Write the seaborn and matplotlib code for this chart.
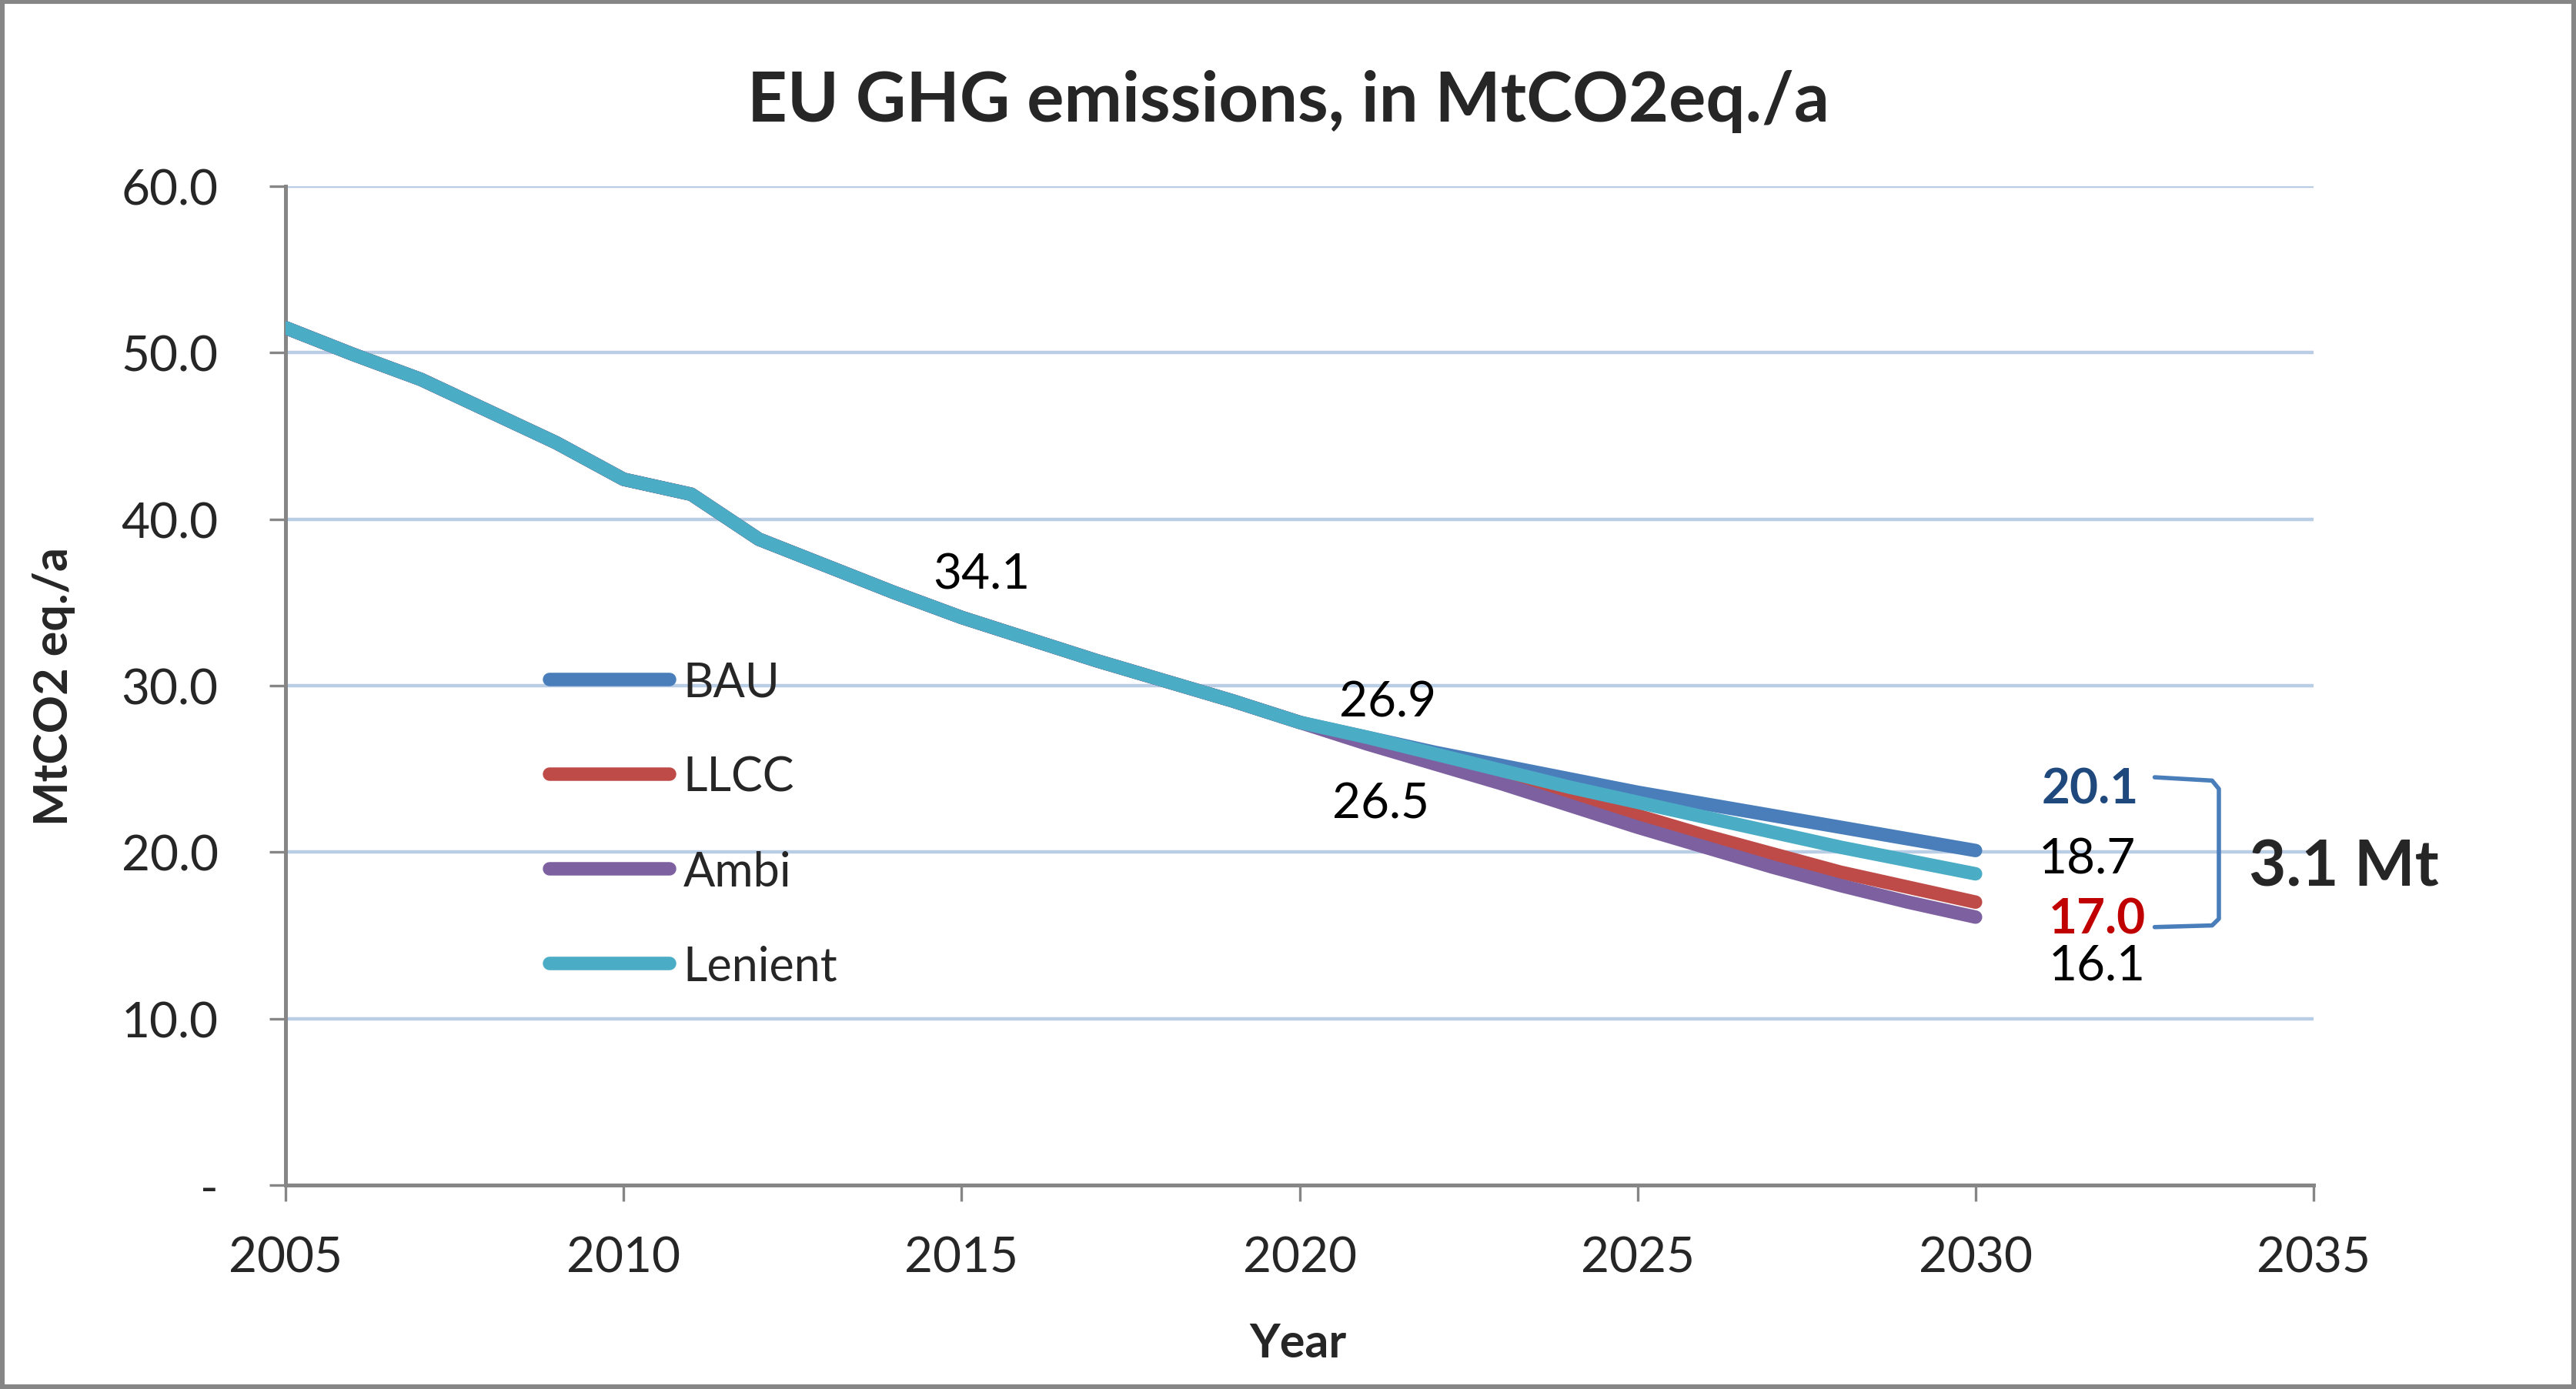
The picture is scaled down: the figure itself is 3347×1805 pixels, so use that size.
import matplotlib
matplotlib.use("Agg")
import matplotlib.pyplot as plt
from matplotlib.patches import Rectangle
import numpy as np
import pandas as pd
import seaborn as sns

YEARS = list(range(2005, 2031))
# shared history 2005-2020
HISTORY = [51.5, 49.9, 48.4, 46.5, 44.6, 42.4, 41.5, 38.8, 37.2, 35.6, 34.1, 32.8, 31.5, 30.3, 29.1, 27.8]
# scenario values 2021-2030
BAU = [26.9, 26.0, 25.2, 24.4, 23.6, 22.9, 22.2, 21.5, 20.8, 20.1]
LLCC = [26.7, 25.7, 24.6, 23.4, 22.2, 21.0, 19.9, 18.8, 17.9, 17.0]
AMBI = [26.5, 25.3, 24.1, 22.8, 21.5, 20.3, 19.1, 18.0, 17.0, 16.1]
LENIENT = [26.9, 25.9, 24.9, 23.9, 23.0, 22.1, 21.2, 20.3, 19.5, 18.7]

SCENARIOS = {"BAU": BAU, "LLCC": LLCC, "Ambi": AMBI, "Lenient": LENIENT}
COLORS = {"BAU": "#4A7EBB", "LLCC": "#BE4B48", "Ambi": "#7D60A0", "Lenient": "#4BACC6"}
Y_TICKS = [0, 10, 20, 30, 40, 50, 60]
Y_LABELS = ["-", "10.0", "20.0", "30.0", "40.0", "50.0", "60.0"]
X_TICKS = [2005, 2010, 2015, 2020, 2025, 2030, 2035]

GRAY = "#868686"
LW = 6.3


def main() -> None:
    rows = []
    for name, vals in SCENARIOS.items():
        for yr, v in zip(YEARS, HISTORY + vals):
            rows.append({"Year": yr, "Value": v, "Scenario": name})
    data = pd.DataFrame(rows)

    sns.set_style("white")
    plt.rcParams["font.family"] = ["Lato", "DejaVu Sans"]

    fig = plt.figure(figsize=(16.735, 9.03), dpi=200)
    ax = fig.add_axes([0.1109, 0.1467, 0.8981 - 0.1109, 0.8654 - 0.1467])

    for y in Y_TICKS[1:]:
        ax.axhline(y, color="#B9CDE5", lw=1.6, zorder=0)

    sns.lineplot(data=data, x="Year", y="Value", hue="Scenario", hue_order=list(SCENARIOS),
                 palette=COLORS, lw=LW, solid_capstyle="round", solid_joinstyle="round",
                 ax=ax, legend=False, zorder=3)

    ax.set_xlim(2005, 2035)
    ax.set_ylim(0, 60)
    ax.set_xticks(X_TICKS)
    ax.set_xticklabels([str(x) for x in X_TICKS], fontsize=23)
    ax.set_yticks(Y_TICKS)
    ax.set_yticklabels(Y_LABELS, fontsize=23)
    ax.tick_params(axis="both", direction="out", length=7.5, width=1.2, color=GRAY, bottom=True, left=True)
    ax.tick_params(axis="y", pad=24)
    ax.tick_params(axis="x", pad=16)
    ax.set_xlabel("")
    ax.set_ylabel("")
    for side in ("top", "right"):
        ax.spines[side].set_visible(False)
    for side in ("left", "bottom"):
        ax.spines[side].set_color(GRAY)
        ax.spines[side].set_linewidth(1.8)

    # legend
    handles = [plt.Line2D([], [], color=COLORS[n], lw=LW, solid_capstyle="round") for n in SCENARIOS]
    ax.legend(handles, list(SCENARIOS), loc="upper left", bbox_to_anchor=(0.13, 0.525), frameon=False,
              fontsize=22, handlelength=2.55, handletextpad=0.3, labelspacing=1.08, borderpad=0, borderaxespad=0)

    # data labels
    lbl = dict(fontsize=23, ha="center", va="center", color="black")
    ax.text(2015.3, 36.7, "34.1", **lbl)
    ax.text(2021.3, 29.0, "26.9", **lbl)
    ax.text(2021.2, 22.9, "26.5", **lbl)
    ax.text(2031.7, 23.8, "20.1", fontsize=23, fontweight="bold", color="#1F497D", ha="center", va="center")
    ax.text(2031.65, 19.6, "18.7", **lbl)
    ax.text(2031.8, 16.0, "17.0", fontsize=23, fontweight="bold", color="#C00000", ha="center", va="center")
    ax.text(2031.8, 13.2, "16.1", **lbl)

    # bracket
    bx = [2032.65, 2033.5, 2033.6, 2033.6, 2033.5, 2032.65]
    by = [24.5, 24.3, 23.8, 16.0, 15.6, 15.5]
    ax.plot(bx, by, color="#4A7EBB", lw=2.0, clip_on=False, zorder=4)
    ax.text(2035.45, 19.1, "3.1 Mt", fontsize=30, fontweight="bold", ha="center", va="center", clip_on=False)

    fig.text(0.5, 0.927, "EU GHG emissions, in MtCO2eq./a", fontsize=32.5, fontweight="bold", ha="center", va="center")
    fig.text(0.021, 0.506, "MtCO2 eq./a", fontsize=22, fontweight="bold", rotation=90, ha="center", va="center")
    fig.text(0.504, 0.033, "Year", fontsize=22, fontweight="bold", ha="center", va="center")

    fig.patches.append(Rectangle((0.0008, 0.0015), 0.9984, 0.997, transform=fig.transFigure, fill=False,
                                 edgecolor=GRAY, lw=2.2))

    fig.savefig("out.png", dpi=200, facecolor="white")


if __name__ == "__main__":
    main()
